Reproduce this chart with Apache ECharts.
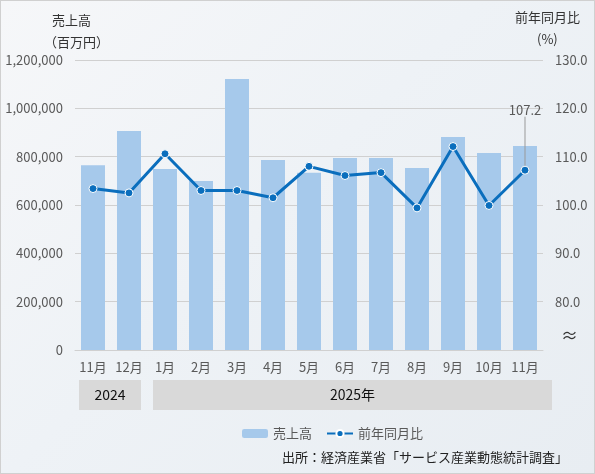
<!DOCTYPE html>
<html>
<head>
<meta charset="utf-8">
<script src="https://cdn.jsdelivr.net/npm/echarts@6/dist/echarts.min.js"></script>
<style>
html, body { margin: 0; padding: 0; }
#main { width: 593px; height: 472px; border: 1px solid #d0d0d0;
  background: linear-gradient(135deg, #f6f7f9 0%, #eef2f6 45%, #e8edf2 100%); }
</style>
</head>
<body>
<div id="main"></div>
<script>
var months = ['11月', '12月', '1月', '2月', '3月', '4月', '5月', '6月', '7月', '8月', '9月', '10月', '11月'];
var years = ['2024', '2025年'];
var yearSpans = [[0, 1], [2, 12]];
var sales = [765000, 906000, 749000, 699000, 1121000, 786000, 733000, 795000, 794000, 753000, 881000, 815000, 844000];
var yoy = [103.4, 102.5, 110.6, 103.0, 103.0, 101.5, 108.0, 106.1, 106.7, 99.4, 112.1, 99.9, 107.2];

var font = '"Noto Sans CJK JP", "Noto Sans", sans-serif';
var chart = echarts.init(document.getElementById('main'));

// only the last point carries a value label with a leader line
var yoyData = yoy.map(function (v, i) {
    if (i < yoy.length - 1) return v;
    return {
        value: v,
        label: { show: true, position: 'top', color: '#595959', fontSize: 13,
                 formatter: function (p) { return p.value.toFixed(1); } },
        labelLine: { show: true, lineStyle: { color: '#999', width: 1 } }
    };
});

var titles = [
    { id: 't1', type: 'text', left: 51, top: 13, style: { text: '売上高', font: '13px ' + font, fill: '#333' } },
    { id: 't2', type: 'text', left: 43, top: 35, style: { text: '（百万円）', font: '13px ' + font, fill: '#333' } },
    { id: 't3', type: 'text', left: 514, top: 10, style: { text: '前年同月比', font: '13px ' + font, fill: '#333' } },
    { id: 't4', type: 'text', left: 536, top: 32, style: { text: '(%)', font: '13px ' + font, fill: '#333' } },
    { id: 't5', type: 'text', right: 26, top: 450, style: { text: '出所：経済産業省「サービス産業動態統計調査」', font: '13px ' + font, fill: '#222' } }
];

chart.setOption({
    textStyle: { fontFamily: font },
    grid: { left: 74, right: 51, top: 59, bottom: 123 },
    legend: {
        left: 236, top: 421,
        itemWidth: 26, itemHeight: 9, itemGap: 14,
        textStyle: { fontSize: 13, color: '#595959' },
        data: ['売上高', '前年同月比']
    },
    graphic: titles,
    xAxis: {
        type: 'category',
        data: months,
        axisLine: { lineStyle: { color: '#d0d0d0' } },
        axisTick: { show: false },
        axisLabel: { color: '#595959', fontSize: 13, margin: 11 }
    },
    yAxis: [{
        type: 'value', min: 0, max: 1200000, interval: 200000,
        axisLabel: {
            color: '#595959', fontSize: 13, margin: 12,
            formatter: function (v) { return v.toLocaleString('en-US'); }
        },
        splitLine: { lineStyle: { color: '#d0d0d0' } }
    }, {
        type: 'value', min: 70, max: 130, interval: 10,
        position: 'right',
        axisLabel: {
            color: '#595959', fontSize: 13, margin: 12,
            formatter: function (v) { return v === 70 ? '{brk|≈}' : v.toFixed(1); },
            rich: { brk: { fontSize: 17, color: '#333', padding: [0, 0, 28, 6] } }
        },
        splitLine: { show: false }
    }],
    series: [{
        name: '売上高',
        type: 'bar',
        data: sales,
        barWidth: 24,
        itemStyle: { color: '#a6c9eb' }
    }, {
        name: '前年同月比',
        type: 'line',
        yAxisIndex: 1,
        data: yoyData,
        symbol: 'circle',
        symbolSize: 8,
        lineStyle: { color: '#0a6ebd', width: 3 },
        itemStyle: { color: '#0a6ebd', borderColor: '#fff', borderWidth: 1 },
        labelLayout: function (p) { return p.dataIndex === yoy.length - 1 ? { dy: -44 } : {}; }
    }]
});

// year band boxes below the month labels, placed from the category axis
function drawYears() {
    var step = chart.convertToPixel({ xAxisIndex: 0 }, 1) - chart.convertToPixel({ xAxisIndex: 0 }, 0);
    var els = titles.slice();
    yearSpans.forEach(function (s, i) {
        var x0 = chart.convertToPixel({ xAxisIndex: 0 }, s[0]) - step / 2;
        var x1 = chart.convertToPixel({ xAxisIndex: 0 }, s[1]) + step / 2;
        x0 += i === 0 ? 4 : 6;
        x1 += i === 0 ? -6 : 9;
        els.push({ id: 'yb' + i, type: 'rect', shape: { x: x0, y: 379, width: x1 - x0, height: 30 }, style: { fill: '#d9d9d9' }, z: 1 });
        els.push({ id: 'yt' + i, type: 'text', x: (x0 + x1) / 2, y: 394, style: { text: years[i], font: '14px ' + font, fill: '#111', align: 'center', verticalAlign: 'middle' }, z: 2 });
    });
    chart.setOption({ graphic: els });
}
drawYears();
</script>
</body>
</html>
